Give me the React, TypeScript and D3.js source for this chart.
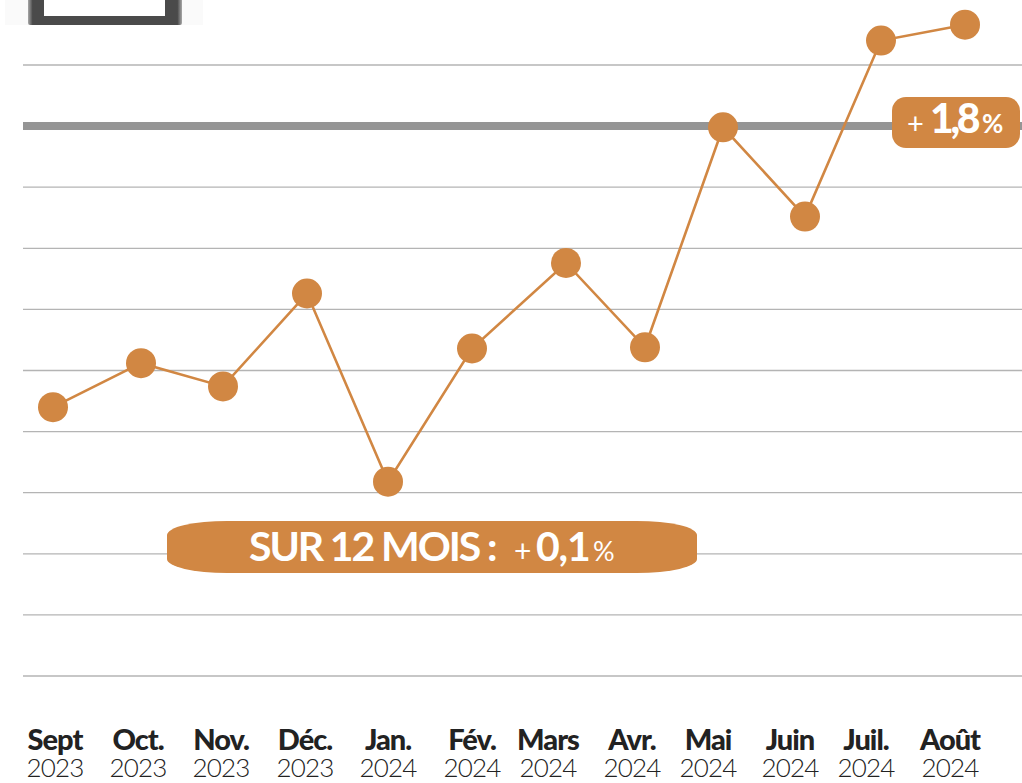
import React from 'react';
import * as d3 from 'd3';

const months = ['Sept', 'Oct.', 'Nov.', 'Déc.', 'Jan.', 'Fév.', 'Mars', 'Avr.', 'Mai', 'Juin', 'Juil.', 'Août'];
const years = ['2023', '2023', '2023', '2023', '2024', '2024', '2024', '2024', '2024', '2024', '2024', '2024'];
// index values (one grid step = 0.5)
const values = [97.7, 98.06, 97.87, 98.63, 97.09, 98.18, 98.88, 98.19, 99.99, 99.26, 100.7, 100.83];
const gridTicks = [100.5, 100, 99.5, 99, 98.5, 98, 97.5, 97, 96.5, 96, 95.5];
const baseValue = 100;

const ORANGE = '#d18743';
const FONT = 'Lato, sans-serif';

export default function App() {
  const width = 1022;
  const height = 783;

  // months are not evenly spaced in the original, neither the dots nor the labels
  const xPoint = d3.scaleOrdinal<string, number>()
    .domain(months)
    .range([53, 141, 223, 307, 388, 472, 566, 645, 723, 805, 881, 965]);
  const xLabel = d3.scaleOrdinal<string, number>()
    .domain(months)
    .range([55, 138, 221, 305, 388, 472, 548, 632, 708, 790, 866, 950]);
  const y = d3.scaleLinear().domain([95.5, 100.5]).range([676, 65]);

  const line = d3.line<number>()
    .x((_, i) => xPoint(months[i]))
    .y(d => y(d));

  return (
    <svg
      width={width}
      height={height}
      style={{ position: 'fixed', left: 0, top: 0, background: '#fff' }}
    >
      <defs>
        <linearGradient id="iconEdge" x1="0" x2="1" y1="0" y2="0">
          <stop offset="0" stopColor="#a8a8a8" />
          <stop offset="0.03" stopColor="#4a4a4a" />
          <stop offset="0.97" stopColor="#4a4a4a" />
          <stop offset="1" stopColor="#a8a8a8" />
        </linearGradient>
      </defs>

      {/* cut-off icon at the top */}
      <rect x={5} y={-10} width={198} height={35} fill="#fafafa" />
      <rect x={28} y={-20} width={154} height={45} rx={2} fill="url(#iconEdge)" />
      <rect x={44} y={-20} width={121} height={36} fill="#fff" />

      {gridTicks.map(t => (
        <line
          key={t}
          x1={23}
          x2={width}
          y1={y(t)}
          y2={y(t)}
          stroke={t === baseValue ? '#959595' : '#b4b4b4'}
          strokeWidth={t === baseValue ? 8 : 1.3}
        />
      ))}

      <path d={line(values) || ''} fill="none" stroke={ORANGE} strokeWidth={2.6} />
      {values.map((v, i) => (
        <circle key={months[i]} cx={xPoint(months[i])} cy={y(v)} r={15} fill={ORANGE} />
      ))}

      {/* + 1,8 % badge */}
      <rect x={892} y={97} width={128} height={51} rx={14} fill={ORANGE} />
      <g fill="#fff" fontFamily={FONT}>
        <text x={907} y={134} fontSize={29} fontWeight={400}>+</text>
        <text x={930} y={133} fontSize={41} fontWeight={900} letterSpacing={-3.4}>1,8</text>
        <text x={982} y={133} fontSize={26} fontWeight={700}>%</text>
      </g>

      {/* 12 month pill */}
      <rect x={167} y={521} width={530} height={52} rx={60} ry={14} fill={ORANGE} />
      <g fill="#fff" fontFamily={FONT}>
        <text x={249} y={561} fontSize={41} fontWeight={700} letterSpacing={-2.1}>SUR 12 MOIS :</text>
        <text x={514} y={562} fontSize={30} fontWeight={400}>+</text>
        <text x={536} y={561} fontSize={41} fontWeight={700} letterSpacing={-1.2}>0,1</text>
        <text x={593} y={561} fontSize={27} fontWeight={400}>%</text>
      </g>

      {months.map((m, i) => (
        <text key={m} fill="#222" fontFamily={FONT} textAnchor="middle">
          <tspan x={xLabel(m)} y={750} fontSize={29} fontWeight={900} letterSpacing={-1}>{m}</tspan>
          <tspan x={xLabel(m)} y={777} fontSize={26} fontWeight={300} letterSpacing={-0.8}>{years[i]}</tspan>
        </text>
      ))}
    </svg>
  );
}
